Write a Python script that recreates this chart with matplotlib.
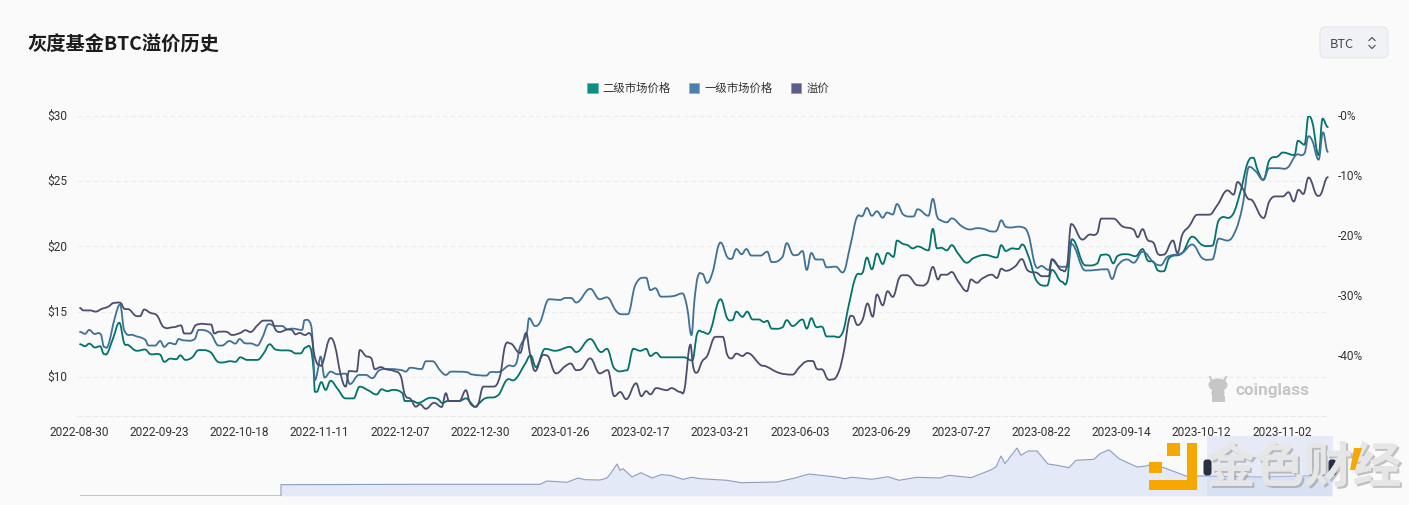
import matplotlib
matplotlib.use('Agg')
import matplotlib.pyplot as plt
import matplotlib.patheffects as pe
from matplotlib.path import Path
from matplotlib.patches import FancyBboxPatch, Patch, PathPatch, Polygon, Rectangle, Ellipse
from matplotlib.transforms import ScaledTranslation

plt.rcParams['font.family'] = ['Roboto', 'Noto Sans CJK SC', 'DejaVu Sans']
cjk = ['Noto Sans CJK SC', 'DejaVu Sans']

dates = ['2022-08-30', '2022-09-23', '2022-10-18', '2022-11-11', '2022-12-07', '2022-12-30',
         '2023-01-26', '2023-02-17', '2023-03-21', '2023-06-03', '2023-06-29', '2023-07-27',
         '2023-08-22', '2023-09-14', '2023-10-12', '2023-11-02']
date_pos = list(range(0, 320, 20))

# second market price
second_x = [0,1.25,2.3,3.75,5,6,6.8,8.3,9.8,11,12,14.2,16.25,17.5,20,21,22.5,24,25,26.3,28,29.6,32.5,34.2,35.4,37.5,38.75,40,41.7,44.2,45.8,47.3,48.75,52.5,53.75,55,56.25,57.5,58.2,58.6,59,60.2,61.25,62.5,64.2,66.25,68.2,69.75,71.7,74,75.2,76.7,77.9,80.4,81,82.9,84.2,87.5,89.2,90.4,91.7,94.6,96.25,97.5,
            98.5,99.3,101,104.3,106.4,108.5,111,112.4,113.7,116,118.5,122.25,123.75,127.25,130,131.4,133.25,136.4,138,139.75,141.2,142.25,143.7,145,150.6,152.7,153.9,155.2,156.6,159.75,161.4,162.7,163.7,165.2,166.4,167.75,169.3,170.6,171.4,172.5,175.2,176.25,177.7,180.2,181.25,182.4,183.5,185.2,186.2,188,190.2,191.8,193.5,195.2,196.25,197.5,198.75,200.2,201.4,202.9,203.75,205.2,206.4,207.7,208.9,211.6,212.7,213.75,214.75,
            216.2,217.4,219,221.2,222.8,225.75,228.7,229.75,230.9,232.4,234,235,236.6,238.5,241.2,242.4,244.9,246.2,247.4,250.75,253.7,254.7,256.6,257.7,258.7,261.2,263.25,265,266.2,267.8,268.7,270.3,271.6,274.9,277.4,279.9,282.4,284,287.4,289.5,291.2,292.6,293.7,295.1,296.6,298.7,300,302.9,303.75,305.4,306.4,307.4,308.9,309.9,311.2]
second_y = [12.5,12.35,12.55,12.25,12.35,11.75,11.8,13.0,14.15,12.6,12.45,12.0,12.1,11.75,11.7,11.15,11.4,11.35,11.65,11.3,11.5,12.05,11.9,11.2,11.1,11.2,11.15,11.5,11.3,11.3,11.8,12.5,12.1,12,11.8,11.8,12.25,12.2,10.75,8.85,8.85,9.6,9,9.7,9.1,8.35,8.35,9.25,9,8.65,9.05,8.9,9,8.75,8.15,8.15,8,8.4,8.3,8.0,8.15,8.15,8.35,8,
            7.7,7.9,8.35,8.6,9.75,9.8,11,11.65,10.75,12.15,12,12.3,11.9,12.9,11.9,12.15,10.65,10.5,12.15,12,12.15,11.6,11.85,11.5,11.5,11.25,13.3,13.45,13.3,15.95,14.5,14.35,15,14.6,15,14.4,14.4,14.2,14.3,13.7,13.8,14.35,13.9,14.4,13.7,14.5,13.85,13.8,13.1,13.1,13.4,15.6,17.7,18,19.15,18.25,19.45,18.65,19.5,19.2,20.45,20.2,20.1,19.85,20,19.7,21.35,19.85,19.9,
            19.7,20.1,19.45,18.75,19.1,19.35,19.15,20.1,19.65,19.85,19.8,20.15,19.2,17.4,17,18.2,17.3,17.4,20.55,18.55,18.7,19.35,19.3,18.7,19.25,19.4,19.25,19.8,18.95,18.8,18.2,18.1,19.1,19.5,20.75,20.1,20.05,22,22.4,24.3,26.4,26.8,25.85,25.1,26.6,26.9,27.2,27,28.1,27.8,30,29.45,27,29.8,29.15]

# first market price
first_x = [0,1.25,2.3,3.5,5.2,6,7,8.75,10,11,13.3,16.25,17.1,18.75,20,21,22.3,23.75,24.6,25.8,28.6,29.6,32.5,34.6,35.4,37.3,38.75,39.8,41,42.9,44.2,45.4,47.1,48.75,50.4,51.7,52.9,55.4,56,57.3,57.9,58.6,59.3,60,61,62.5,64.2,66.25,67.3,69.6,71.25,72.9,74.6,77.5,80.4,81.25,82.3,85.2,86.25,87.9,89.8,91.25,92.5,96.7,97.5,
           101.4,102.25,104.75,106.8,108.75,109.75,111.4,112,113.5,114.75,117,119.75,121,122.5,123.75,127.25,129.6,131.4,133.7,135.2,136.6,138.5,141.2,142.25,143.5,144.9,148.1,150.2,151.4,152.5,153.25,154.1,155.2,156.4,157.7,159.75,161.4,162.5,163.7,165,166.2,167.4,169.75,171.4,172.5,175.2,176.25,177.7,178.9,180.2,181.25,182.4,183.5,185.2,186.2,188.5,190.2,192.25,193.7,195.2,196.25,197.5,198.75,200.2,201.25,202.7,203.75,205.3,207.9,208.9,211.6,212.7,213.75,214.75,
           216.2,217.4,219.9,222,223.7,225.3,227.4,228.7,229.75,230.9,235.3,236.6,238.25,239.9,241.6,242.4,244,246.2,247.2,250.75,256.2,257.4,258.7,261.2,262.8,265,267.8,269.5,271.2,274.9,277.4,279.9,282.4,284,286.2,288.25,289.9,291.6,293.25,295.1,296.6,299.1,301.2,303.25,305.4,306.4,307.4,308.9,310,311.2]
first_y = [13.45,13.3,13.6,13.3,13.25,12.3,12.4,14.6,15.55,13.6,13.2,12.85,12.4,12.4,12.75,12.3,12.6,12.5,12.9,12.8,12.9,13.6,13.35,12.4,12.4,12.75,12.55,12.9,12.6,12.55,12.4,12.95,14.05,13.9,13.9,13.65,13.7,13.6,14.35,14.2,13.3,9.75,10.5,11.55,9.95,10.4,10.2,10.25,9.45,10.15,10.15,9.9,10.5,10.6,10.5,10.4,10.7,10.6,11.2,11.2,10.5,10.15,10.4,10.35,10.2,
           10.1,10.35,10.4,10.85,11,12.3,13.3,14.5,13.9,14.2,15.95,15.9,16.05,16.05,15.7,16.75,15.95,16.1,15.05,14.8,14.8,17.05,17.6,16.65,16.8,16.15,16.2,16.4,15.35,13.2,15.9,17.7,17.9,17.2,17.95,20.3,19.2,19.05,19.8,19.4,19.8,19.3,19.3,19.6,18.8,19.2,20.25,19.4,19.35,19.65,18.2,19.5,19,19,18.4,18.45,18,20.25,22.2,22.35,22.95,22.35,22.7,22.2,22.6,22.45,23.25,22.45,22.3,22.85,22.35,23.65,22.3,22,
           21.85,22.15,21.55,21.3,21.4,21.35,21.15,21.25,22,21.5,21.45,20.85,18.55,18.5,18.2,18.95,18.5,18.45,20.2,18.15,18.25,17.5,18.5,19,18.75,19.6,18.75,18.55,19.2,19.5,20.15,19.1,19,20.6,20.45,21.25,23.05,26.1,25.75,25.1,26,26,26.05,27,27.15,28.45,28.05,26.65,28.75,27.25]

# premium, right axis in percent
premium_x = [0,0.8,2.5,3.9,5.4,7,8.5,10.2,11,12.3,13.75,15,16,17.5,19.2,20.8,23.3,25.2,26,27.5,28.9,32.7,33.5,34.6,36.7,37.9,40,41.25,42.5,44.3,45.8,47.7,48.75,49.8,51.7,52.9,53.75,54.75,56,57.7,58.5,59.6,60.4,62.5,63.6,65,66.25,67.1,69,69.8,71.25,72.7,73.5,75,76.25,78.3,80,81,82.5,83.75,84.8,86.25,88.3,90.2,91.25,92,94.6,96.25,97.1,97.5,
             98.5,99.3,100.6,103.1,104.75,106,107.25,109.75,111.25,112.25,113.5,115.2,116.4,118.7,121,122.4,123.75,125.2,127.25,129.6,131.6,133.25,134.75,136.2,138.7,140,141.2,142.25,143.7,146.4,147.5,149.75,150.75,152.25,152.9,153.75,155.2,156.4,158.5,160.3,161.4,162.5,163.7,165.2,166.4,169.75,171,174.3,177.7,179.3,181,182.8,183.7,185.3,186.4,187.7,189.3,190.6,191.8,192.7,193.9,195.2,196.4,197.7,198.75,200.2,201.4,202.7,204.3,205.6,206.8,208.9,211.3,212.7,214,214.75,
             216.2,217.4,219,221.2,222.2,223.7,225,227.4,228.7,229.75,230.9,233.25,234.9,236.3,238.7,239.9,241.6,242.4,244.9,246.2,247.2,250,251.6,253.7,254.7,257.7,260,262.8,263.8,265,266.2,267.8,268.8,270.3,272.6,273.7,274.9,276.6,278.7,281.6,283.7,286.2,287.7,288.7,289.9,291.2,292.4,295.2,296.6,298.25,300,301.4,302.7,303.9,305.1,306.4,308.7,309.5,311.2]
premium_y = [-32,-32.4,-32.4,-32.6,-32.15,-31.8,-31.15,-31.2,-32.1,-32.25,-33.25,-33.35,-32.25,-32.8,-33.25,-35.15,-35.2,-34.9,-36.25,-36.25,-34.85,-34.75,-36.25,-35.95,-36,-36.5,-36.15,-35.7,-36,-34.85,-34.1,-34.1,-35.6,-36,-35.6,-35.7,-36.4,-36.15,-36.5,-36.6,-40,-41.5,-41.4,-37,-38.35,-43.05,-45.1,-42.5,-42.6,-39,-40,-40.45,-42.2,-41.85,-42.2,-42.5,-43.35,-46.4,-47.2,-48.45,-48.05,-48.8,-47.8,-48.5,-46.2,-47.5,-47.5,-45.7,-47.5,-48.05,
             -48.45,-48.05,-45.1,-45.1,-43.35,-38.35,-37.9,-39.5,-36.15,-39.75,-42.5,-40,-39.9,-42.9,-41.7,-41.25,-42.35,-42.1,-40.4,-42.9,-42.35,-46.7,-46,-47.2,-44.55,-46.7,-45.85,-46.4,-45.35,-45.7,-45.35,-46,-45.55,-38.1,-41.7,-42.8,-40.85,-40,-36.8,-36.8,-39.75,-40.4,-39.6,-40,-39.5,-41.5,-41.7,-42.8,-43.1,-41.95,-40.95,-40.85,-42.1,-42.35,-43.8,-43.9,-42.5,-38.9,-33.9,-33.35,-34.85,-33.9,-31.25,-33.45,-29.75,-31.55,-29.2,-30.15,-27,-26.55,-26.7,-28.2,-27.8,-25.15,-27.25,-26.45,
             -26.45,-26,-27.55,-29.2,-27.25,-27.8,-27.1,-26.45,-27,-25.45,-25.8,-25.05,-23.85,-25.7,-26.15,-26.7,-26.7,-23.85,-25.7,-24.8,-18,-20.6,-19.8,-19.5,-17.1,-17.1,-18.4,-18.95,-20.2,-18.85,-20.6,-21.2,-22.95,-23.1,-20.75,-22.85,-19.8,-18.4,-16.45,-16.45,-14.8,-12.4,-13.1,-11,-12,-13.7,-14.1,-17,-14.25,-13.4,-13.4,-12.7,-14.25,-12.3,-13,-10.25,-13.3,-13,-10.2]

# overview strip at the bottom
overview_x = [80,281,281,420,540,547,567,578,585,600,607,611,617,620,623,632,641,652,661,670,683,692,700,727,741,777,795,809,836,845,852,872,888,899,917,940,949,971,990,996,1001,1005,1017,1021,1028,1037,1048,1057,1069,1076,1094,1100,1109,1119,1137,1146,1152,1162,1180,1186,1202,1261,1331]
overview_y = [0,0,11.3,11.7,11.7,15,13.7,18,16.3,16,18,23,32,25.7,27.3,19,23.3,18,21.3,20.7,16.7,18.7,17.3,15.7,13.3,14,18,22,19,17.3,18.7,16.7,19.3,15.7,18.7,18,20.7,18.3,25.7,29,40,32.3,48,40.7,45,45,32,30.7,28.3,35.7,36.7,42.3,46.3,37.3,29,30,32,29,22.3,20,20,19,20.7]


def smooth_line(axes, xs, ys, color, zorder):
    # curve through the read points, flat at turning points so it does not overshoot
    verts = [(xs[0], ys[0])]
    codes = [Path.MOVETO]
    n = len(xs)
    slopes = []
    for i in range(n):
        if i == 0 or i == n - 1:
            slopes.append(0.0)
        elif (ys[i] - ys[i - 1]) * (ys[i + 1] - ys[i]) <= 0:
            slopes.append(0.0)
        else:
            slopes.append((ys[i + 1] - ys[i - 1]) / (xs[i + 1] - xs[i - 1]))
    for i in range(n - 1):
        d = (xs[i + 1] - xs[i]) * 0.4
        verts.append((xs[i] + d, ys[i] + slopes[i] * d))
        verts.append((xs[i + 1] - d, ys[i + 1] - slopes[i + 1] * d))
        verts.append((xs[i + 1], ys[i + 1]))
        codes += [Path.CURVE4, Path.CURVE4, Path.CURVE4]
    axes.add_patch(PathPatch(Path(verts, codes), fc='none', ec=color, lw=1.3, capstyle='round',
                             joinstyle='round', zorder=zorder))


fig = plt.figure(figsize=(14.09, 5.05), dpi=100, facecolor='#fafafa')
W, H = 1409, 505

ax = fig.add_axes([77 / W, 1 - 416 / H, 1252 / W, 300 / H], facecolor='none')
smooth_line(ax, second_x, second_y, '#00736a', 3)
smooth_line(ax, first_x, first_y, '#3f7096', 4)
ax.set_xlim(-0.75, 311.5)
ax.set_ylim(7, 30)
ax.set_yticks([10, 15, 20, 25, 30])
ax.set_yticklabels(['$10', '$15', '$20', '$25', '$30'])
ax.set_xticks(date_pos)
ax.set_xticklabels(dates)
ax.tick_params(axis='both', length=0, labelsize=8.6, labelcolor='#333333')
ax.tick_params(axis='y', pad=7)
ax.tick_params(axis='x', pad=7)
ax.grid(axis='y', color='#ebebeb', lw=0.8, ls=(0, (4, 3)))
for s in ['top', 'left', 'right']:
    ax.spines[s].set_visible(False)
ax.spines['bottom'].set_color('#ebebeb')
ax.spines['bottom'].set_linewidth(0.8)
ax.spines['bottom'].set_linestyle((0, (4, 3)))

ax2 = ax.twinx()
smooth_line(ax2, premium_x, premium_y, '#4b4d6e', 5)
ax2.set_ylim(-50, 0)
ax2.set_yticks([0, -10, -20, -30, -40])
ax2.set_yticklabels(['-0%', '-10%', '-20%', '-30%', '-40%'])
ax2.tick_params(axis='y', length=0, labelsize=8.6, labelcolor='#333333', pad=6)
for s in ax2.spines.values():
    s.set_visible(False)

# labels sit a pixel off the ticks in the original
for lab in ax.get_yticklabels() + ax2.get_yticklabels():
    lab.set_transform(lab.get_transform() + ScaledTranslation(0, 0.01, fig.dpi_scale_trans))
for lab in ax.get_xticklabels():
    lab.set_transform(lab.get_transform() + ScaledTranslation(-0.01, 0, fig.dpi_scale_trans))

# legend
handles = [Patch(facecolor='#0b8f84', edgecolor='#5fb5ad', lw=0.5),
           Patch(facecolor='#4a7fb0', edgecolor='#86a9c9', lw=0.5),
           Patch(facecolor='#5b5f87', edgecolor='#8d90ab', lw=0.5)]
fig.legend(handles, ['二级市场价格', '一级市场价格', '溢价'], loc='center', bbox_to_anchor=(708 / W, 1 - 88 / H),
           ncol=3, frameon=False, prop={'family': cjk, 'size': 8.2}, labelcolor='#333333',
           handlelength=0.95, handleheight=0.95, handletextpad=0.45, columnspacing=1.55)

fig.text(27 / W, 1 - 45 / H, '灰度基金BTC溢价历史', family=cjk, fontsize=13.9, fontweight='bold',
         color='#1c1c1c', va='center')

# overview strip
mini = fig.add_axes([80 / W, 1 - 496 / H, 1252 / W, 60 / H], facecolor='none')
mini.fill_between(overview_x, overview_y, 0, color='#e3e9f6', lw=0, zorder=1)
mini.plot(overview_x, overview_y, color='#8a9dbd', lw=0.8, zorder=2)
mini.set_xlim(80, 1332)
mini.set_ylim(0, 60)
mini.axis('off')

# everything that is not data, in picture pixels
deco = fig.add_axes([0, 0, 1, 1], facecolor='none')
deco.set_xlim(0, W)
deco.set_ylim(H, 0)
deco.axis('off')

# BTC selector
deco.add_patch(FancyBboxPatch((1323, 30), 62, 25, boxstyle='round,pad=3,rounding_size=6',
                              fc='#f0f2f5', ec='#e4e6ea', lw=0.8))
deco.text(1330, 44, 'BTC', fontsize=9.2, color='#444a55', va='center', family=cjk)
deco.plot([1369, 1372, 1375], [40.5, 37.5, 40.5], color='#555a66', lw=0.9)
deco.plot([1369, 1372, 1375], [45.5, 48.5, 45.5], color='#555a66', lw=0.9)

# coinglass mark
bull = '#c6c6c6'
deco.add_patch(Ellipse((1218, 385), 19, 13, fc=bull, ec='none'))
deco.add_patch(Ellipse((1218, 393), 13, 13, fc=bull, ec='none'))
deco.add_patch(Rectangle((1212, 396), 13, 6, fc=bull, ec='none'))
deco.plot([1210, 1212], [377, 381], color=bull, lw=1.5)
deco.plot([1226, 1224], [377, 381], color=bull, lw=1.5)
deco.text(1236, 390, 'coinglass', fontsize=12.3, fontweight='bold', color='#c6c6c6', va='center',
          family='Roboto')

# selected range on the overview
deco.add_patch(Rectangle((1207, 436), 126, 60, fc='#c9d6f2', alpha=0.42, ec='none'))
deco.add_patch(FancyBboxPatch((1205, 461), 5, 13, boxstyle='round,pad=1.5,rounding_size=3',
                              fc='#2b3040', ec='none'))
deco.add_patch(FancyBboxPatch((1330, 461), 5, 13, boxstyle='round,pad=1.5,rounding_size=3',
                              fc='#2b3040', ec='none'))

# watermark logo
gold = '#f5a800'
for x0, y0, w, h in [(1167, 443, 13, 13), (1187, 443, 10, 47), (1149, 480, 48, 10), (1149, 462, 13, 11)]:
    deco.add_patch(Rectangle((x0, y0), w, h, fc=gold, ec='none', zorder=6))
deco.text(1304, 468, '金色财经', family=cjk, fontsize=35, fontweight='bold', color='#e6e6e6',
          ha='center', va='center', zorder=6,
          path_effects=[pe.withSimplePatchShadow(offset=(1.5, -1.5), shadow_rgbFace='#888888', alpha=0.5), pe.Normal()])
deco.add_patch(Polygon([(1354, 448), (1362, 448), (1355, 470), (1350, 470)], fc=gold, ec='none', zorder=7))

fig.savefig('out.png', dpi=100, facecolor=fig.get_facecolor())
